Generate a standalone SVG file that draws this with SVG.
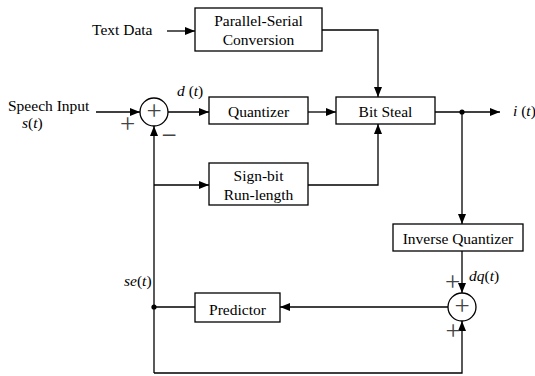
<svg xmlns="http://www.w3.org/2000/svg" width="535" height="376" viewBox="0 0 535 376">
<style>
.box{fill:#fff;stroke:#000;stroke-width:1.3}
.ln{fill:none;stroke:#000;stroke-width:1.3}
.arr{marker-end:url(#ah)}
text{font-family:"Liberation Serif","Times New Roman",serif;font-size:15.5px;fill:#000}
.c{text-anchor:middle}
.it{font-style:italic}
.n{font-style:normal}
.sg{font-size:27px;fill:#444;text-anchor:middle}
</style>
<defs>
<marker id="ah" markerUnits="userSpaceOnUse" markerWidth="10" markerHeight="8" refX="10" refY="4" orient="auto">
<path d="M0,0 L10,4 L0,8 z" fill="#000"/>
</marker>
</defs>
<rect width="535" height="376" fill="#fff"/>
<g id="connectors">
<path class="ln arr" d="M167,31 H195"/>
<path class="ln arr" d="M322,30 H378 V97"/>
<path class="ln arr" d="M96,112 H140"/>
<path class="ln arr" d="M168,112 H209"/>
<path class="ln arr" d="M308,112 H336"/>
<path class="ln arr" d="M435,112 H500"/>
<path class="ln arr" d="M462,112 V224"/>
<path class="ln arr" d="M154,373 V126"/>
<path class="ln arr" d="M154,185 H209"/>
<path class="ln arr" d="M308,185 H378 V124"/>
<path class="ln" d="M154,307 H195"/>
<path class="ln arr" d="M448,307 H280"/>
<path class="ln arr" d="M462,251 V293"/>
<path class="ln arr" d="M154,373 H462 V321"/>
<circle cx="462" cy="112" r="2.6" fill="#000"/>
<circle cx="154" cy="307" r="2.6" fill="#000"/>
</g>
<g id="text-data"><text x="92" y="35">Text Data</text></g>
<g id="speech-input">
<text x="8" y="111">Speech Input</text>
<text x="22" y="128" class="it">s<tspan class="n">(</tspan>t<tspan class="n">)</tspan></text>
</g>
<g id="parallel-serial">
<rect class="box" x="195" y="8" width="127" height="43"/>
<text class="c" x="258.5" y="26">Parallel-Serial</text>
<text class="c" x="258.5" y="45">Conversion</text>
</g>
<g id="sum1">
<circle class="box" cx="154" cy="112" r="14"/>
<text class="sg" x="154" y="119.5">+</text>
<text class="sg" x="127.5" y="132.5">+</text>
<text class="sg" x="169" y="144">−</text>
<text x="177" y="96" class="it">d <tspan class="n">(</tspan>t<tspan class="n">)</tspan></text>
</g>
<g id="quantizer">
<rect class="box" x="209" y="97" width="99" height="27"/>
<text class="c" x="258.5" y="117">Quantizer</text>
</g>
<g id="bit-steal">
<rect class="box" x="336" y="97" width="99" height="27"/>
<text class="c" x="385.5" y="117">Bit Steal</text>
</g>
<g id="output"><text x="513" y="116" class="it">i <tspan class="n">(</tspan>t<tspan class="n">)</tspan></text></g>
<g id="sign-bit">
<rect class="box" x="209" y="163" width="99" height="42"/>
<text class="c" x="258.5" y="181">Sign-bit</text>
<text class="c" x="258.5" y="200">Run-length</text>
</g>
<g id="inverse-quantizer">
<rect class="box" x="393" y="224" width="130" height="27"/>
<text class="c" x="458" y="244">Inverse Quantizer</text>
</g>
<g id="sum2">
<circle class="box" cx="462" cy="307" r="14"/>
<text class="sg" x="462" y="314.5">+</text>
<text class="sg" x="452.5" y="291">+</text>
<text class="sg" x="453" y="339.5">+</text>
<text x="469" y="281" class="it">dq<tspan class="n">(</tspan>t<tspan class="n">)</tspan></text>
</g>
<g id="predictor">
<rect class="box" x="195" y="293" width="85" height="29"/>
<text class="c" x="237.5" y="315">Predictor</text>
<text x="124" y="286" class="it">se<tspan class="n">(</tspan>t<tspan class="n">)</tspan></text>
</g>
</svg>
